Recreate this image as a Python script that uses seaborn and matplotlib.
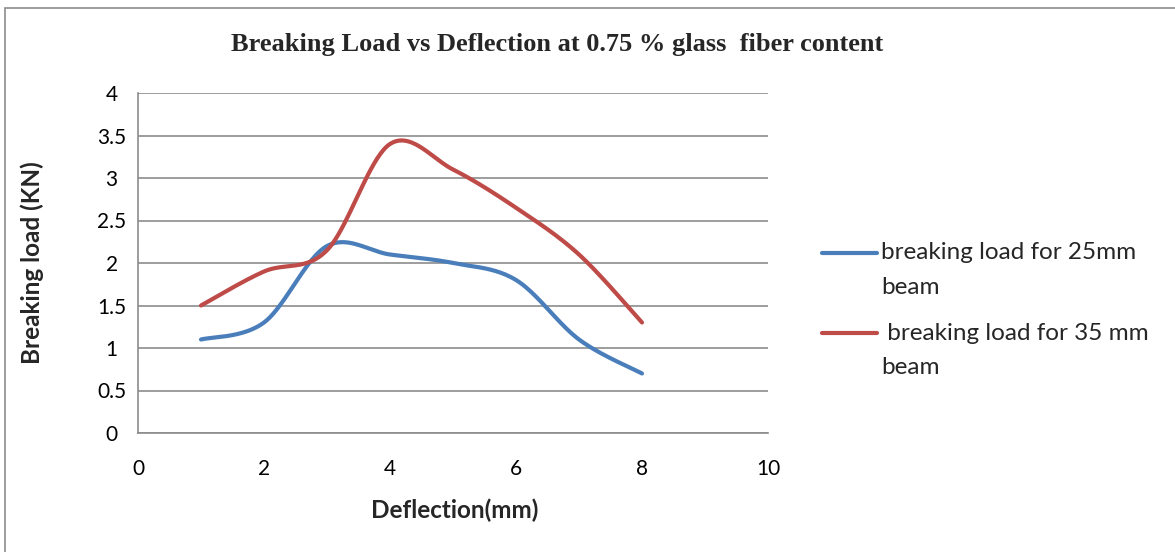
import numpy as np
import pandas as pd
import matplotlib
matplotlib.use("Agg")
import matplotlib.pyplot as plt
import seaborn as sns
from matplotlib.patches import Rectangle
from matplotlib.lines import Line2D

# ---- data ----
deflection = [1, 2, 3, 4, 5, 6, 7, 8]
load_25mm = [1.1, 1.3, 2.2, 2.1, 2.0, 1.8, 1.1, 0.7]
load_35mm = [1.5, 1.9, 2.15, 3.4, 3.1, 2.65, 2.1, 1.3]
series_names = ["breaking load for 25mm\nbeam", " breaking load for 35 mm\nbeam"]
x_ticks = [0, 2, 4, 6, 8, 10]
y_ticks = [0, 0.5, 1, 1.5, 2, 2.5, 3, 3.5, 4]

colors = ["#4A7EBB", "#BE4B48"]


def smooth(xs, ys, n=40):
    """Catmull-Rom (Excel-style) smoothing through the given points."""
    xs = np.asarray(xs, float)
    ys = np.asarray(ys, float)
    px = np.concatenate([[xs[0]], xs, [xs[-1]]])
    py = np.concatenate([[ys[0]], ys, [ys[-1]]])
    outx, outy = [], []
    t = np.linspace(0, 1, n, endpoint=False)
    for i in range(1, len(px) - 2):
        p0, p1, p2, p3 = [np.array([px[j], py[j]]) for j in (i - 1, i, i + 1, i + 2)]
        c1 = p1 + (p2 - p0) / 6.0
        c2 = p2 - (p3 - p1) / 6.0
        b = ((1 - t) ** 3)[:, None] * p1 + (3 * (1 - t) ** 2 * t)[:, None] * c1 \
            + (3 * (1 - t) * t ** 2)[:, None] * c2 + (t ** 3)[:, None] * p2
        outx.extend(b[:, 0]); outy.extend(b[:, 1])
    outx.append(xs[-1]); outy.append(ys[-1])
    return outx, outy


frames = []
for name, ys in zip(series_names, [load_25mm, load_35mm]):
    sx, sy = smooth(deflection, ys)
    frames.append(pd.DataFrame({"x": sx, "y": sy, "series": name}))
df = pd.concat(frames, ignore_index=True)

sns.set_theme(style="white")
plt.rcParams["font.family"] = ["Lato", "DejaVu Sans"]

W, H = 1175, 552
fig = plt.figure(figsize=(W / 100, H / 100), dpi=100)
ax = fig.add_axes([138 / W, 1 - 433 / H, (768 - 138) / W, (433 - 93) / H])

sns.lineplot(data=df, x="x", y="y", hue="series", palette=colors, sort=False,
             estimator=None, linewidth=3.0, ax=ax, legend=False)

ax.set_xlim(0, 10)
ax.set_ylim(0, 4)
ax.set_xticks(x_ticks)
ax.set_yticks(y_ticks)
ax.set_xticklabels([str(v) for v in x_ticks])
ax.set_yticklabels([f"{v:g}" for v in y_ticks])
ax.tick_params(axis="x", labelsize=15, colors="black", length=0, pad=19)
ax.tick_params(axis="y", labelsize=15, colors="black", length=0, pad=19)
for lab in ax.get_yticklabels():
    lab.set_horizontalalignment("center")
ax.yaxis.grid(True, color="#8c8c8c", linewidth=1.2)
ax.xaxis.grid(False)
for s in ["top", "right"]:
    ax.spines[s].set_visible(False)
for s in ["left", "bottom"]:
    ax.spines[s].set_color("#8c8c8c")
    ax.spines[s].set_linewidth(1.2)

ax.set_xlabel("Deflection(mm)", fontsize=17.5, fontweight="bold")
ax.set_ylabel("Breaking load (KN)", fontsize=17.5, fontweight="bold")
ax.xaxis.set_label_coords((455 - 138) / 630, (433 - 510) / 340)
ax.xaxis.label.set_va("center")
ax.yaxis.set_label_coords((32 - 138) / 630, (433 - 263) / 340)
ax.yaxis.label.set_va("center")
ax.yaxis.label.set_ha("center")

fig.text(557 / W, 1 - 45 / H, "Breaking Load vs Deflection at 0.75 % glass  fiber content",
         ha="center", va="center", fontsize=19, fontweight="bold", family="Liberation Serif")

# legend drawn manually to match Excel layout (handle aligned to first text line)
legend_rows = [253, 333]
for name, c, yrow in zip(series_names, colors, legend_rows):
    fig.add_artist(Line2D([822 / W, 877 / W], [1 - yrow / H, 1 - yrow / H], color=c,
                          linewidth=3.0, solid_capstyle="round", transform=fig.transFigure))
    for k, line in enumerate(name.split("\n")):
        fig.text(881 / W, 1 - (yrow + 34 * k) / H, line, ha="left", va="center", fontsize=17.5)

fig.patches.append(Rectangle((5 / W, -0.1), 1.2, 1 - 8 / H + 0.1, transform=fig.transFigure,
                             fill=False, edgecolor="#8c8c8c", linewidth=1.2))

fig.savefig("out.png", dpi=100, facecolor="white")
